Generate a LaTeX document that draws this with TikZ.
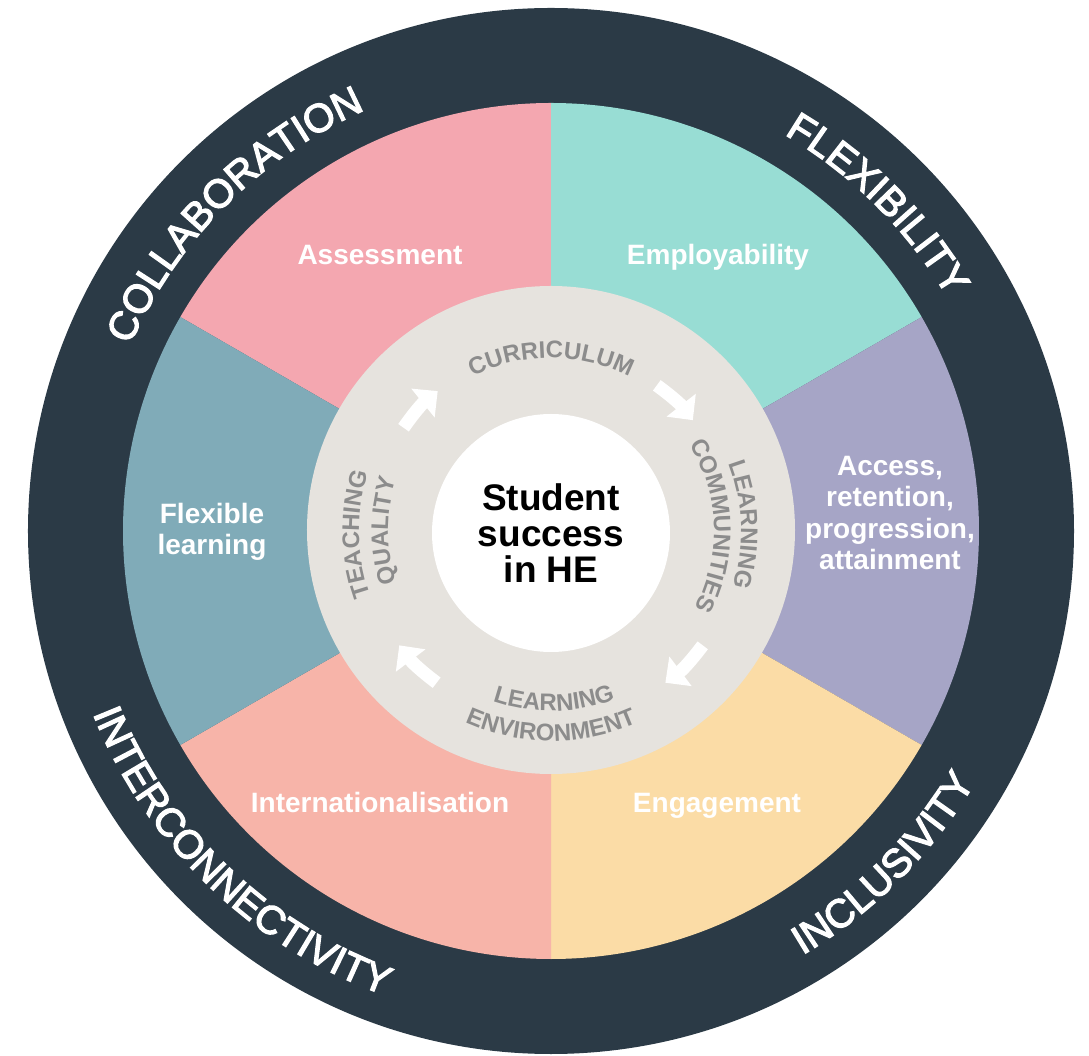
\documentclass[tikz,border=0pt]{standalone}
\usepackage{fontspec}
\setmainfont{Liberation Sans}
\newfontfamily\bandfamily[FakeBold=3]{Liberation Sans}
\usepackage{tikz}
\usetikzlibrary{arrows.meta, positioning, decorations.text}
\definecolor{mynavy}{RGB}{43,58,70}
\definecolor{mypink}{RGB}{244,167,176}
\definecolor{mymint}{RGB}{152,221,212}
\definecolor{mylavender}{RGB}{166,165,198}
\definecolor{myyellow}{RGB}{251,220,166}
\definecolor{mysalmon}{RGB}{247,180,169}
\definecolor{myteal}{RGB}{128,171,184}
\definecolor{myring}{RGB}{230,227,222}
\definecolor{mygrey}{RGB}{140,140,140}
\newcommand{\segfont}{\fontsize{28}{31.5}\selectfont\bfseries}
\newcommand{\hubfont}{\fontsize{37}{36}\selectfont\bfseries}
\newcommand{\bandfont}{\bandfamily\fontsize{40}{40}\selectfont}
\newcommand{\cyclefont}{\fontsize{24}{24}\selectfont\bfseries}

\begin{document}
\begin{tikzpicture}[x=1pt, y=1pt,
    seglabel/.style={text=white, font=\segfont, align=center, inner sep=0pt},
    bandword/.style={decorate, decoration={text along path, text align=center, text color=white, text={|\bandfont|#1}}},
    cycleword/.style={decorate, decoration={text along path, text align=center, text color=mygrey, text={|\cyclefont|#1}}},
    cyclearrow/.style={white, line width=13pt, -{Triangle[width=36pt, length=19pt]}}]
    \useasboundingbox (-551,-525) rectangle (538,531);

    % Outer band and the six coloured sectors
    \fill[mynavy] (0,0) circle[radius=523];
    \foreach \a/\c in {90/mypink, 30/mymint, -30/mylavender, -90/myyellow, -150/mysalmon, 150/myteal}
        \fill[\c] (0,0) -- (\a:428) arc[start angle=\a, end angle=\a+60, radius=428] -- cycle;

    % Words round the outer band
    \path[bandword=COLLABORATION] (180:460) arc[start angle=180, end angle=90, radius=460];
    \path[bandword=FLEXIBILITY] (90:460) arc[start angle=90, end angle=0, radius=460];
    \path[bandword=INTERCONNECTIVITY] (181:493) arc[start angle=181, end angle=271, radius=493];
    \path[bandword=INCLUSIVITY] (270:493) arc[start angle=270, end angle=360, radius=493];

    % Sector labels
    \node[seglabel, anchor=base] (assess) at (-171,266) {Assessment};
    \node[seglabel, anchor=base] (employ) at (167,266) {Employability};
    \node[seglabel] (access) at (339,18) {Access,\\retention,\\progression,\\attainment};
    \node[seglabel, anchor=base] (engage) at (166,-282) {Engagement};
    \node[seglabel, anchor=base] (intl) at (-171,-282) {Internationalisation};
    \node[seglabel] (flexlearn) at (-339,-1) {Flexible\\learning};

    % Inner cycle ring with the hub
    \node[circle, fill=myring, minimum size=488pt, inner sep=0pt] (ring) at (0,1) {};
    \node[circle, fill=white, minimum size=238pt, inner sep=0pt, font=\hubfont, align=center] (hub) at (0,-2) {Student\\success\\in HE};

    % Words of the cycle
    \path[cycleword=CURRICULUM] (180:173) arc[start angle=180, end angle=0, radius=173];
    \path[cycleword=LEARNING] (92:190) arc[start angle=92, end angle=-88, radius=190];
    \path[cycleword=COMMUNITIES] (92:163) arc[start angle=92, end angle=-88, radius=163];
    \path[cycleword=LEARNING] (181:180) arc[start angle=181, end angle=361, radius=180];
    \path[cycleword=ENVIRONMENT] (180:210) arc[start angle=180, end angle=360, radius=210];
    \path[cycleword=TEACHING] (271:192) arc[start angle=271, end angle=91, radius=192];
    \path[cycleword=QUALITY] (270:163) arc[start angle=270, end angle=90, radius=163];

    % Clockwise arrows between the words
    \foreach \a/\r [count=\i] in {137/180, 46/180, -45/190, 225/190} {
        \coordinate (tail\i) at (\a+8:\r);
        \coordinate (tip\i) at (\a-8:\r);
        \draw[cyclearrow] (tail\i) to[bend left=8] (tip\i);
    }
\end{tikzpicture}
\end{document}
